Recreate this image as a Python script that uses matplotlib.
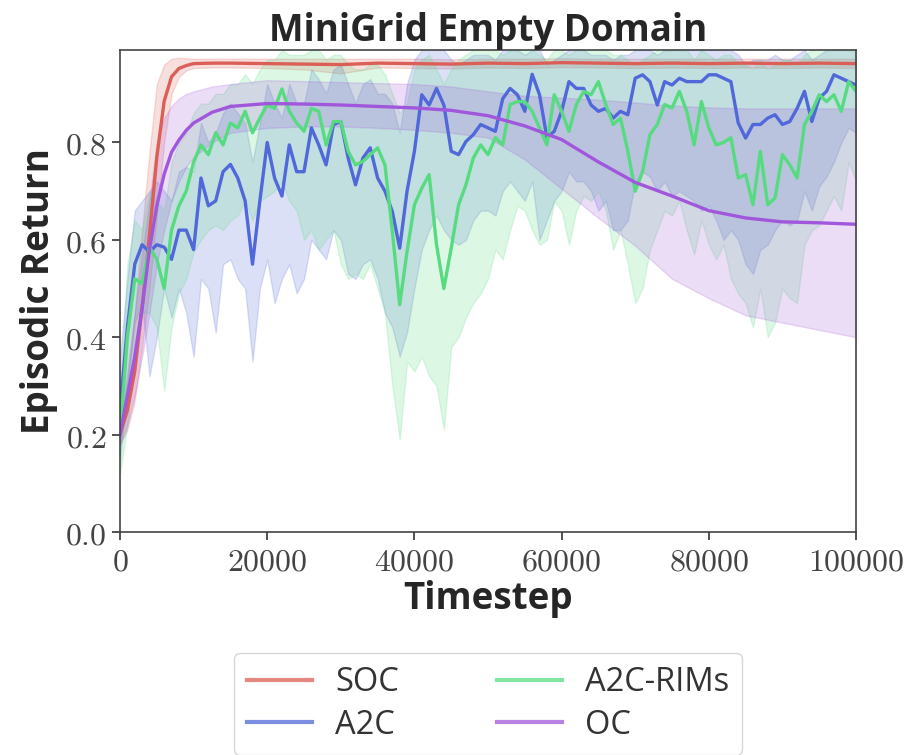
import numpy as np
import matplotlib
matplotlib.use("Agg")
import matplotlib.pyplot as plt
from matplotlib.ticker import FuncFormatter

plt.rcParams['mathtext.fontset'] = 'cm'
plt.rcParams['font.family'] = ['Open Sans', 'DejaVu Sans']

# x grid (timesteps) for the noisy runs
steps = np.arange(0, 100001, 1000)

# A2C mean / band
a2c_mean = [0.25, 0.42, 0.55, 0.59, 0.575, 0.59, 0.585, 0.56, 0.62, 0.62,
            0.58, 0.727, 0.67, 0.68, 0.74, 0.755, 0.727, 0.68, 0.55, 0.68,
            0.80, 0.727, 0.69, 0.795, 0.74, 0.74, 0.83, 0.795, 0.754, 0.837,
            0.843, 0.768, 0.713, 0.768, 0.789, 0.727, 0.70, 0.658, 0.583, 0.70,
            0.782, 0.898, 0.877, 0.911, 0.877, 0.782, 0.775, 0.802, 0.816, 0.837,
            0.83, 0.823, 0.89, 0.911, 0.898, 0.864, 0.94, 0.898, 0.81, 0.823,
            0.864, 0.925, 0.911, 0.911, 0.877, 0.864, 0.87, 0.85, 0.864, 0.857,
            0.932, 0.939, 0.925, 0.877, 0.925, 0.918, 0.932, 0.925, 0.925, 0.925,
            0.939, 0.939, 0.932, 0.925, 0.84, 0.809, 0.837, 0.837, 0.85, 0.857,
            0.837, 0.843, 0.87, 0.905, 0.843, 0.891, 0.905, 0.939, 0.932, 0.925,
            0.918]
a2c_low = [0.15, 0.30, 0.43, 0.47, 0.32, 0.40, 0.50, 0.44, 0.50, 0.45,
           0.36, 0.52, 0.50, 0.41, 0.55, 0.56, 0.52, 0.50, 0.35, 0.50,
           0.56, 0.47, 0.52, 0.55, 0.49, 0.52, 0.60, 0.58, 0.56, 0.62,
           0.60, 0.53, 0.52, 0.55, 0.56, 0.52, 0.45, 0.42, 0.36, 0.41,
           0.50, 0.58, 0.62, 0.65, 0.62, 0.60, 0.59, 0.60, 0.64, 0.66,
           0.66, 0.65, 0.70, 0.72, 0.70, 0.68, 0.72, 0.60, 0.64, 0.68,
           0.70, 0.74, 0.72, 0.72, 0.70, 0.66, 0.68, 0.62, 0.62, 0.64,
           0.72, 0.74, 0.73, 0.70, 0.72, 0.69, 0.70, 0.69, 0.68, 0.66,
           0.67, 0.64, 0.60, 0.62, 0.60, 0.55, 0.53, 0.58, 0.59, 0.62,
           0.64, 0.63, 0.64, 0.70, 0.66, 0.71, 0.73, 0.76, 0.80, 0.83,
           0.82]
a2c_high = [0.36, 0.52, 0.66, 0.68, 0.70, 0.72, 0.70, 0.68, 0.74, 0.75,
            0.74, 0.84, 0.80, 0.82, 0.86, 0.88, 0.86, 0.84, 0.76, 0.84,
            0.92, 0.88, 0.85, 0.92, 0.88, 0.88, 0.95, 0.93, 0.90, 0.95,
            0.96, 0.92, 0.88, 0.92, 0.93, 0.90, 0.90, 0.88, 0.82, 0.92,
            0.97, 0.99, 0.99, 0.99, 0.99, 0.97, 0.96, 0.97, 0.98, 0.98,
            0.98, 0.97, 0.99, 0.99, 0.99, 0.98, 0.99, 0.99, 0.96, 0.97,
            0.98, 0.99, 0.99, 0.99, 0.98, 0.98, 0.98, 0.97, 0.98, 0.98,
            0.99, 0.99, 0.99, 0.98, 0.99, 0.99, 0.99, 0.99, 0.99, 0.99,
            0.99, 0.99, 0.99, 0.99, 0.98, 0.96, 0.97, 0.97, 0.97, 0.98,
            0.97, 0.97, 0.98, 0.99, 0.97, 0.98, 0.99, 0.99, 0.99, 0.99,
            0.99]

# A2C-RIMs mean / band
rims_mean = [0.20, 0.40, 0.52, 0.51, 0.585, 0.56, 0.50, 0.62, 0.67, 0.70,
             0.76, 0.795, 0.775, 0.82, 0.795, 0.84, 0.83, 0.864, 0.82, 0.85,
             0.877, 0.87, 0.91, 0.864, 0.84, 0.823, 0.87, 0.864, 0.795, 0.843,
             0.843, 0.782, 0.754, 0.761, 0.775, 0.789, 0.754, 0.617, 0.467, 0.576,
             0.672, 0.706, 0.734, 0.59, 0.50, 0.583, 0.672, 0.713, 0.768, 0.795,
             0.775, 0.81, 0.795, 0.878, 0.884, 0.884, 0.864, 0.83, 0.795, 0.898,
             0.864, 0.823, 0.878, 0.905, 0.898, 0.925, 0.878, 0.837, 0.85, 0.782,
             0.70, 0.74, 0.816, 0.837, 0.878, 0.871, 0.905, 0.864, 0.795, 0.884,
             0.83, 0.795, 0.80, 0.81, 0.727, 0.734, 0.672, 0.782, 0.672, 0.686,
             0.775, 0.754, 0.727, 0.837, 0.864, 0.898, 0.884, 0.898, 0.864, 0.925,
             0.905]
rims_low = [0.12, 0.22, 0.38, 0.45, 0.45, 0.42, 0.29, 0.42, 0.49, 0.52,
            0.575, 0.60, 0.62, 0.63, 0.62, 0.64, 0.65, 0.68, 0.64, 0.68,
            0.69, 0.70, 0.72, 0.68, 0.66, 0.60, 0.62, 0.58, 0.60, 0.62,
            0.55, 0.52, 0.53, 0.52, 0.55, 0.50, 0.45, 0.30, 0.19, 0.35,
            0.33, 0.36, 0.32, 0.30, 0.21, 0.38, 0.40, 0.44, 0.47, 0.49,
            0.52, 0.58, 0.56, 0.62, 0.67, 0.66, 0.62, 0.59, 0.60, 0.68,
            0.66, 0.59, 0.66, 0.69, 0.68, 0.70, 0.66, 0.58, 0.62, 0.55,
            0.47, 0.50, 0.58, 0.62, 0.66, 0.65, 0.68, 0.62, 0.57, 0.64,
            0.59, 0.56, 0.59, 0.52, 0.49, 0.47, 0.42, 0.50, 0.40, 0.43,
            0.50, 0.48, 0.47, 0.59, 0.62, 0.63, 0.66, 0.69, 0.66, 0.76,
            0.72]
rims_high = [0.28, 0.55, 0.64, 0.62, 0.70, 0.68, 0.66, 0.76, 0.80, 0.82,
             0.86, 0.88, 0.88, 0.90, 0.90, 0.92, 0.92, 0.94, 0.92, 0.95,
             0.97, 0.97, 0.99, 0.98, 0.98, 0.98, 0.99, 0.99, 0.97, 0.98,
             0.98, 0.96, 0.95, 0.95, 0.96, 0.96, 0.94, 0.90, 0.86, 0.88,
             0.95, 0.97, 0.98, 0.95, 0.92, 0.95, 0.97, 0.98, 0.99, 0.99,
             0.99, 0.99, 0.98, 0.99, 0.99, 0.99, 0.99, 0.98, 0.97, 0.99,
             0.99, 0.98, 0.99, 0.99, 0.99, 0.99, 0.99, 0.98, 0.98, 0.97,
             0.96, 0.97, 0.98, 0.99, 0.99, 0.99, 0.99, 0.99, 0.97, 0.99,
             0.98, 0.97, 0.98, 0.98, 0.96, 0.96, 0.95, 0.97, 0.95, 0.96,
             0.97, 0.97, 0.96, 0.98, 0.99, 0.99, 0.99, 0.99, 0.99, 0.99,
             0.99]

# smooth runs on a coarser grid
smooth_steps = [0, 1000, 2000, 3000, 4000, 5000, 6000, 7000, 8000, 9000,
                10000, 12500, 15000, 20000, 25000, 30000, 35000, 40000, 45000, 50000,
                55000, 60000, 65000, 70000, 75000, 80000, 85000, 90000, 95000, 100000]

soc_mean = [0.20, 0.25, 0.33, 0.46, 0.61, 0.77, 0.885, 0.935, 0.952, 0.958,
            0.962, 0.963, 0.963, 0.962, 0.961, 0.960, 0.963, 0.962, 0.961, 0.963,
            0.962, 0.964, 0.963, 0.962, 0.963, 0.962, 0.963, 0.962, 0.963, 0.962]
soc_low = [0.18, 0.21, 0.27, 0.38, 0.50, 0.65, 0.80, 0.90, 0.935, 0.948,
           0.953, 0.954, 0.954, 0.953, 0.950, 0.942, 0.954, 0.953, 0.952, 0.954,
           0.953, 0.955, 0.954, 0.953, 0.954, 0.953, 0.954, 0.953, 0.954, 0.953]
soc_high = [0.22, 0.31, 0.45, 0.62, 0.78, 0.92, 0.96, 0.972, 0.974, 0.973,
            0.972, 0.972, 0.972, 0.972, 0.972, 0.972, 0.972, 0.972, 0.971, 0.972,
            0.972, 0.973, 0.972, 0.972, 0.972, 0.972, 0.972, 0.972, 0.972, 0.972]

oc_mean = [0.20, 0.28, 0.36, 0.46, 0.58, 0.67, 0.735, 0.78, 0.805, 0.825,
           0.84, 0.862, 0.874, 0.880, 0.879, 0.877, 0.874, 0.871, 0.866, 0.855,
           0.834, 0.806, 0.760, 0.718, 0.690, 0.660, 0.645, 0.637, 0.635, 0.632]
oc_low = [0.18, 0.22, 0.28, 0.36, 0.45, 0.55, 0.62, 0.68, 0.72, 0.75,
          0.77, 0.80, 0.82, 0.83, 0.833, 0.833, 0.83, 0.826, 0.82, 0.81,
          0.765, 0.705, 0.645, 0.588, 0.52, 0.48, 0.445, 0.43, 0.415, 0.40]
oc_high = [0.22, 0.33, 0.45, 0.57, 0.68, 0.80, 0.85, 0.875, 0.89, 0.90,
           0.905, 0.915, 0.92, 0.928, 0.926, 0.924, 0.922, 0.92, 0.915, 0.905,
           0.896, 0.892, 0.888, 0.882, 0.876, 0.872, 0.87, 0.87, 0.87, 0.87]

colors = {'SOC': '#db5f57', 'A2C': '#5068d9', 'A2C-RIMs': '#57db80', 'OC': '#a157db'}

fig = plt.figure(figsize=(9.12, 7.55), dpi=100)
ax = fig.add_axes([0.1316, 0.2954, 0.8070, 0.6384])

runs = [
    ('SOC', smooth_steps, soc_mean, soc_low, soc_high),
    ('A2C', steps, a2c_mean, a2c_low, a2c_high),
    ('A2C-RIMs', steps, rims_mean, rims_low, rims_high),
    ('OC', smooth_steps, oc_mean, oc_low, oc_high),
]
for name, x, m, lo, hi in runs:
    c = colors[name]
    ax.fill_between(x, lo, hi, color=c, alpha=0.2, linewidth=1.0)
    ax.plot(x, m, color=c, linewidth=2.4, label=name)

ax.set_xlim(0, 100000)
ax.set_ylim(0, 0.99)
ax.set_xticks([0, 20000, 40000, 60000, 80000, 100000])
ax.set_yticks([0.0, 0.2, 0.4, 0.6, 0.8])
ax.xaxis.set_major_formatter(FuncFormatter(lambda v, p: r'$%d$' % int(v)))
ax.yaxis.set_major_formatter(FuncFormatter(lambda v, p: r'$%.1f$' % v))
ax.tick_params(axis='both', labelsize=23, length=6, width=1.2, colors='#333333',
               labelcolor='#444444', direction='out')
for s in ax.spines.values():
    s.set_color('#444444')
    s.set_linewidth(1.2)

ax.set_title('MiniGrid Empty Domain', fontsize=26.5, fontweight='bold', color='#262626', pad=5)
ax.set_xlabel('Timestep', fontsize=26.5, fontweight='bold', color='#262626', labelpad=1)
ax.set_ylabel('Episodic Return', fontsize=26.5, fontweight='bold', color='#262626', labelpad=5)

leg = ax.legend(loc='upper center', bbox_to_anchor=(0.5, -0.251), ncol=2, fontsize=23.5,
                frameon=True, fancybox=True, columnspacing=3.0, handlelength=2.0,
                handletextpad=0.7, borderpad=0.4, labelspacing=0.3, borderaxespad=0)
leg.get_frame().set_edgecolor('#cccccc')
for line in leg.get_lines():
    line.set_linewidth(3)
    line.set_alpha(0.75)
for t in leg.get_texts():
    t.set_color('#333333')

fig.savefig('out.png', dpi=100)
